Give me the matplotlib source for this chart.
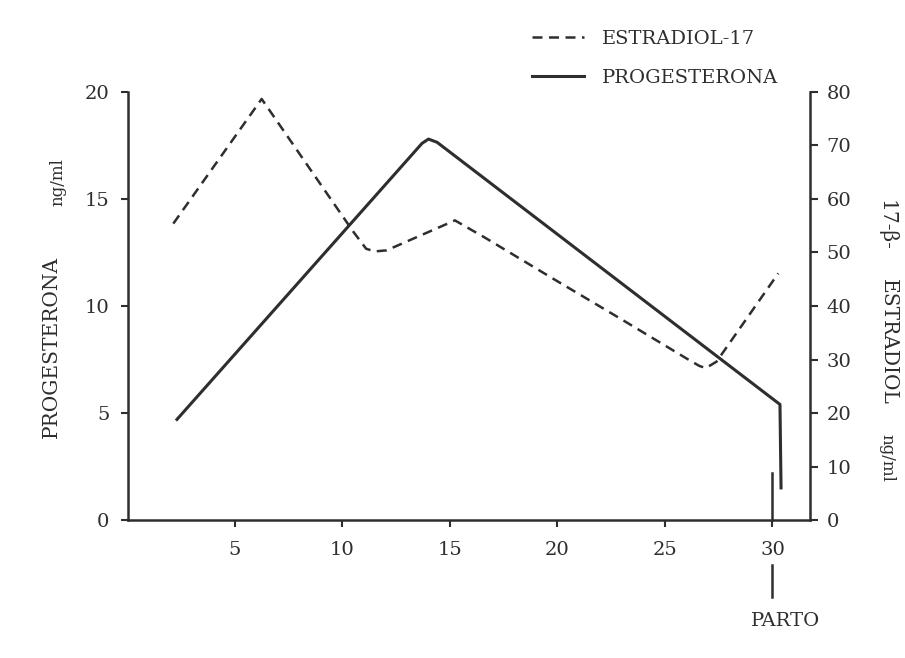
import matplotlib.pyplot as plt
from matplotlib.lines import Line2D

# Dados (dias, ng/ml)
dias_prog = [2.3, 13.7, 14.0, 14.4, 30.35, 30.4]
progesterona = [4.7, 17.6, 17.8, 17.65, 5.4, 1.5]

dias_estr = [2.13, 6.24, 10.5, 11.1, 11.5, 12.05, 15.23, 16.7, 19.8, 22.9,
             26.0, 26.6, 26.9, 27.4, 30.27]
estradiol = [55.4, 78.7, 53.9, 50.7, 50.2, 50.4, 56.0, 52.6, 45.1, 37.7,
             30.2, 28.8, 28.4, 29.6, 46.1]

ticks_x = [5, 10, 15, 20, 25, 30]
ticks_prog = [0, 5, 10, 15, 20]
ticks_estr = [0, 10, 20, 30, 40, 50, 60, 70, 80]

dia_parto = 30.0

plt.rcParams['font.family'] = 'DejaVu Serif'
cor = '#2e2e2e'

fig = plt.figure(figsize=(9.05, 6.58), dpi=100)
ax1 = fig.add_axes([0.1409, 0.2097, 0.7542, 0.6505])
ax2 = ax1.twinx()

# progesterona (eixo esquerdo)
ax1.plot(dias_prog, progesterona, color=cor, lw=2.2, solid_joinstyle='round')
ax1.set_xlim(0, 31.75)
ax1.set_ylim(0, 20)
ax1.set_xticks(ticks_x)
ax1.set_yticks(ticks_prog)
for s in ['top', 'right']:
    ax1.spines[s].set_visible(False)
for s in ['left', 'bottom']:
    ax1.spines[s].set_color(cor)
    ax1.spines[s].set_linewidth(1.8)
ax1.tick_params(axis='both', colors=cor, labelsize=14, width=1.5, length=5)
ax1.tick_params(axis='x', pad=10)
ax1.tick_params(axis='y', pad=8)

# estradiol (eixo direito)
ax2.plot(dias_estr, estradiol, color=cor, lw=1.8, linestyle=(0, (4, 2.6)))
ax2.set_ylim(0, 80)
ax2.set_yticks(ticks_estr)
for s in ['top', 'left', 'bottom']:
    ax2.spines[s].set_visible(False)
ax2.spines['right'].set_color(cor)
ax2.spines['right'].set_linewidth(1.8)
ax2.tick_params(axis='y', colors=cor, labelsize=14, width=1.5, length=6, pad=6)

# rotulos dos eixos
fig.text(51 / 905, 1 - 347 / 658, 'PROGESTERONA', rotation=90, ha='center', va='center',
         fontsize=14.5, color=cor)
fig.text(58 / 905, 1 - 182 / 658, 'ng/ml', rotation=90, ha='center', va='center',
         fontsize=12, color=cor)
fig.text(886 / 905, 1 - 225 / 658, '17-β-', rotation=-90, ha='center', va='center',
         fontsize=14.5, color=cor)
fig.text(888 / 905, 1 - 342 / 658, 'ESTRADIOL', rotation=-90, ha='center', va='center',
         fontsize=14.5, color=cor)
fig.text(887 / 905, 1 - 458 / 658, 'ng/ml', rotation=-90, ha='center', va='center',
         fontsize=12, color=cor)

# parto
ax1.plot([dia_parto, dia_parto], [2.2, 0], color=cor, lw=1.8, clip_on=False)
ax1.plot([dia_parto, dia_parto], [-2.1, -3.6], color=cor, lw=1.8, clip_on=False)
ax1.text(dia_parto + 0.6, -4.7, 'PARTO', ha='center', va='center', fontsize=14, color=cor)

# legenda
handles = [Line2D([], [], color=cor, lw=1.8, linestyle=(0, (4, 2.6))),
           Line2D([], [], color=cor, lw=2.2)]
fig.legend(handles, ['ESTRADIOL-17', 'PROGESTERONA'], loc='upper left',
           bbox_to_anchor=(522 / 905, 1 - 20 / 658), frameon=False, fontsize=14,
           handlelength=2.7, handletextpad=0.9, labelspacing=1.1, borderpad=0,
           labelcolor=cor)

fig.savefig('out.png', dpi=100)
